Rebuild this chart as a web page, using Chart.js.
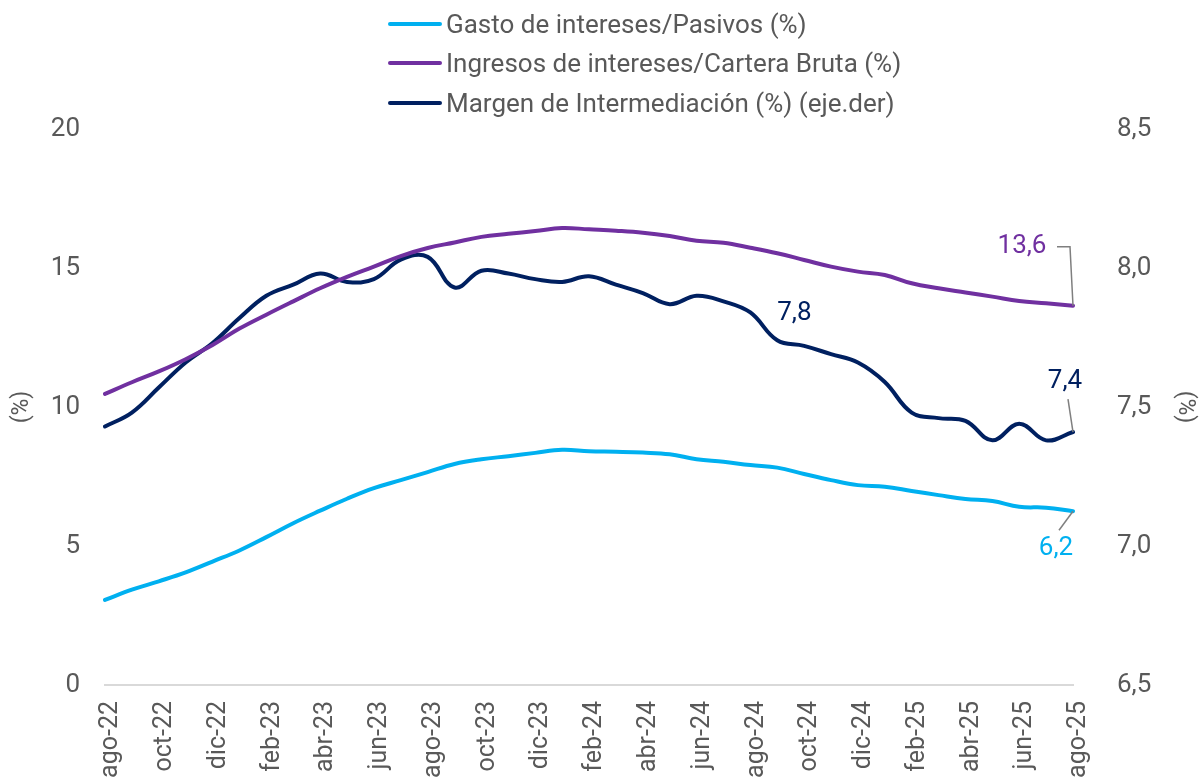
<!DOCTYPE html>
<html lang="es">
<head>
<meta charset="UTF-8">
<title>Margen de intermediación</title>
<script src="https://cdn.jsdelivr.net/npm/chart.js"></script>
<style>
  html, body { margin: 0; padding: 0; background: #fff; }
  .wrap { position: relative; width: 1201px; height: 784px; }
  .leyenda { position: absolute; left: 388px; top: 4px; font-family: Roboto, sans-serif; font-size: 26px; color: #595959; }
  .leyenda div { display: flex; align-items: center; height: 39.5px; }
  .leyenda span.linea { display: inline-block; width: 54px; height: 4px; border-radius: 2px; margin-right: 4px; }
</style>
</head>
<body>
<div class="wrap">
  <canvas id="grafico" width="1201" height="784"></canvas>
  <div class="leyenda" id="leyenda"></div>
</div>
<script>
  const meses = ['ago-22','sep-22','oct-22','nov-22','dic-22','ene-23','feb-23','mar-23','abr-23','may-23','jun-23','jul-23',
    'ago-23','sep-23','oct-23','nov-23','dic-23','ene-24','feb-24','mar-24','abr-24','may-24','jun-24','jul-24',
    'ago-24','sep-24','oct-24','nov-24','dic-24','ene-25','feb-25','mar-25','abr-25','may-25','jun-25','jul-25','ago-25'];

  const gastoPasivos = [3.06,3.43,3.73,4.05,4.44,4.84,5.32,5.82,6.27,6.70,7.08,7.37,
    7.66,7.95,8.12,8.23,8.35,8.46,8.41,8.39,8.36,8.30,8.12,8.03,
    7.91,7.82,7.59,7.37,7.19,7.13,6.98,6.83,6.69,6.62,6.41,6.38,6.25];

  const ingresosCartera = [10.47,10.89,11.28,11.72,12.23,12.82,13.32,13.80,14.27,14.68,15.05,15.43,
    15.72,15.92,16.12,16.23,16.33,16.44,16.39,16.34,16.27,16.15,15.98,15.91,
    15.73,15.53,15.29,15.05,14.87,14.75,14.45,14.27,14.12,13.97,13.81,13.73,13.64];

  const margenInter = [7.43,7.48,7.57,7.66,7.73,7.82,7.90,7.94,7.98,7.95,7.96,8.03,
    8.04,7.93,7.99,7.98,7.96,7.95,7.97,7.94,7.91,7.87,7.90,7.88,
    7.84,7.74,7.72,7.69,7.66,7.59,7.48,7.46,7.45,7.38,7.44,7.38,7.41];

  const ticksIzq = [0, 5, 10, 15, 20];
  const ticksDer = [6.5, 7.0, 7.5, 8.0, 8.5];

  const nombres = ['Gasto de intereses/Pasivos (%)', 'Ingresos de intereses/Cartera Bruta (%)', 'Margen de Intermediación (%) (eje.der)'];
  const colores = ['#00b0f0', '#7030a0', '#002060'];

  // etiquetas de datos: [serie, indice, texto, dx, dy, lider]
  const etiquetas = [
    [1, 36, '13,6', -51, -59, 'codo'],
    [2, 36, '7,4', -8, -51, 'recta'],
    [0, 36, '6,2', -17, 37, 'recta'],
    [2, 24, '7,8', 44, 1, null]
  ];

  const leyenda = document.getElementById('leyenda');
  nombres.forEach(function (n, i) {
    const d = document.createElement('div');
    d.innerHTML = '<span class="linea" style="background:' + colores[i] + '"></span>' + n;
    leyenda.appendChild(d);
  });

  const fmt = v => v.toFixed(1).replace('.', ',');

  const pluginEtiquetas = {
    id: 'etiquetas',
    afterDatasetsDraw(chart) {
      const ctx = chart.ctx;
      ctx.save();
      ctx.font = '26px Roboto';
      ctx.textAlign = 'center';
      ctx.textBaseline = 'middle';
      etiquetas.forEach(function (e) {
        const pt = chart.getDatasetMeta(e[0]).data[e[1]];
        const tx = pt.x + e[3], ty = pt.y + e[4];
        ctx.strokeStyle = '#7f7f7f';
        ctx.lineWidth = 1.5;
        if (e[5] === 'codo') {
          ctx.beginPath();
          ctx.moveTo(tx + 35, ty);
          ctx.lineTo(pt.x - 3, ty);
          ctx.lineTo(pt.x, pt.y);
          ctx.stroke();
        } else if (e[5] === 'recta') {
          ctx.beginPath();
          const sgn = e[4] < 0 ? 1 : -1;
          ctx.moveTo(tx + 3, ty + sgn * 18);
          ctx.lineTo(pt.x, pt.y);
          ctx.stroke();
        }
        ctx.fillStyle = colores[e[0]];
        ctx.fillText(e[2], tx, ty);
      });
      ctx.restore();
    }
  };

  const dados = {
    labels: meses,
    datasets: [
      { label: nombres[0], data: gastoPasivos, borderColor: colores[0], yAxisID: 'y' },
      { label: nombres[1], data: ingresosCartera, borderColor: colores[1], yAxisID: 'y' },
      { label: nombres[2], data: margenInter, borderColor: colores[2], yAxisID: 'y1' }
    ].map(d => Object.assign(d, { borderWidth: 4, pointRadius: 0, tension: 0.4, fill: false, borderCapStyle: 'round' }))
  };

  Chart.defaults.font.family = 'Roboto';
  Chart.defaults.color = '#595959';

  new Chart(document.getElementById('grafico'), {
    type: 'line',
    data: dados,
    plugins: [pluginEtiquetas],
    options: {
      responsive: false,
      animation: false,
      layout: { padding: { top: 129, left: 0, right: 0, bottom: 0 } },
      plugins: { legend: { display: false }, tooltip: { enabled: false } },
      scales: {
        x: {
          offset: false,
          grid: { display: false, drawTicks: false },
          border: { display: true, color: '#d9d9d9', width: 2 },
          ticks: {
            autoSkip: false, minRotation: 90, maxRotation: 90, padding: 16, labelOffset: 6,
            font: { size: 25 },
            callback: function (v, i) { return i % 2 === 0 ? meses[i] : ''; }
          },
          afterFit: s => { s.height = 99; }
        },
        y: {
          position: 'left', min: 0, max: 20,
          grid: { display: false, drawTicks: false },
          border: { display: false },
          afterBuildTicks: s => { s.ticks = ticksIzq.map(v => ({ value: v })); },
          ticks: { padding: 25, font: { size: 26 } },
          title: { display: true, text: '(%)', font: { size: 23 }, padding: { top: 8 } },
          afterFit: s => { s.width = 105; }
        },
        y1: {
          position: 'right', min: 6.5, max: 8.5,
          grid: { display: false, drawTicks: false },
          border: { display: false },
          afterBuildTicks: s => { s.ticks = ticksDer.map(v => ({ value: v })); },
          ticks: { padding: 44, font: { size: 26 }, callback: v => fmt(v) },
          title: { display: true, text: '(%)', font: { size: 23 }, padding: { top: 2 } },
          afterFit: s => { s.width = 128; }
        }
      }
    }
  });
</script>
</body>
</html>
